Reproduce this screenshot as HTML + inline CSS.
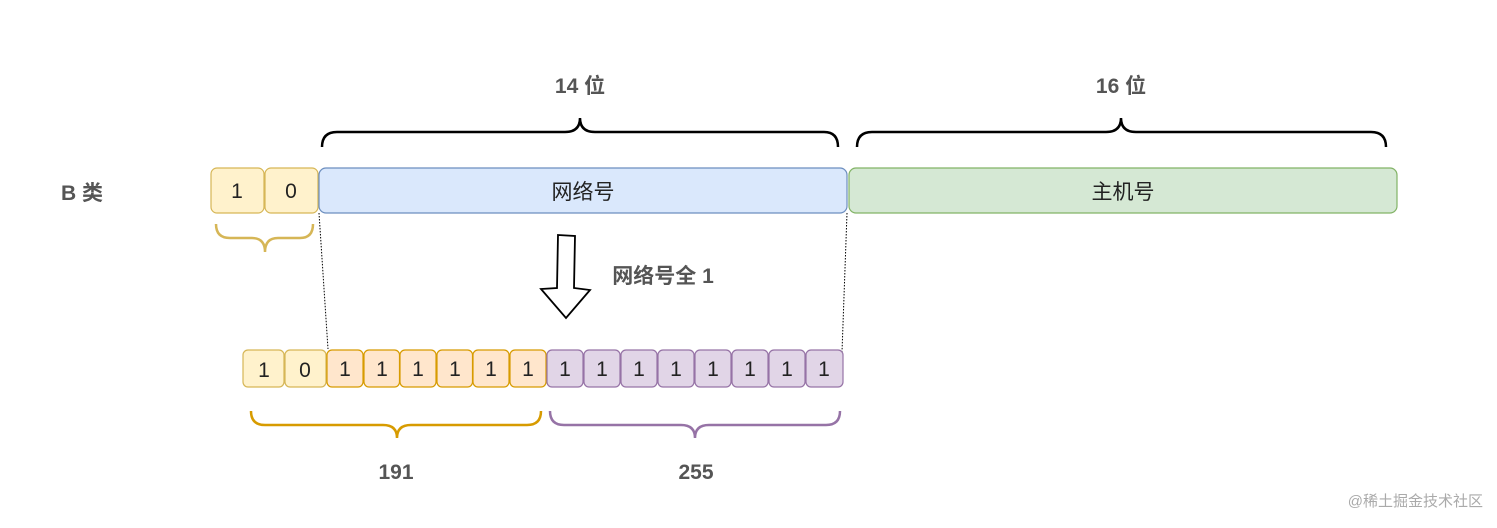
<!DOCTYPE html>
<html><head><meta charset="utf-8"><style>body{margin:0;background:#fff}svg{display:block}text{font-family:"Liberation Sans","Noto Sans CJK SC",sans-serif}</style></head><body>
<svg width="1497" height="528" viewBox="0 0 1497 528" xmlns="http://www.w3.org/2000/svg">
<g font-weight="bold" fill="#555" font-size="21" text-anchor="middle">
<text x="82" y="200">B 类</text>
<text x="580" y="93">14 位</text>
<text x="1121" y="93">16 位</text>
<text x="663" y="283">网络号全 1</text>
<text x="396" y="479">191</text>
<text x="696" y="479">255</text>
</g>
<!-- braces -->
<path d="M322,147 Q322,132 337,132 L565,132 Q580,132 580,118 Q580,132 595,132 L824,132 Q838,132 838,147" fill="none" stroke="#000" stroke-width="2.5"/>
<path d="M857,147 Q857,132 872,132 L1106,132 Q1121,132 1121,118 Q1121,132 1136,132 L1371,132 Q1386,132 1386,147" fill="none" stroke="#000" stroke-width="2.5"/>
<path d="M216,224 Q216,238 230,238 L252,238 Q265,238 265,252 Q265,238 278,238 L300,238 Q313,238 313,224" fill="none" stroke="#d6b656" stroke-width="2.5"/>
<path d="M251,411 Q251,425 265,425 L383,425 Q397,425 397,438 Q397,425 411,425 L527,425 Q541,425 541,411" fill="none" stroke="#d79b00" stroke-width="2.5"/>
<path d="M550,411 Q550,425 564,425 L681,425 Q695,425 695,438 Q695,425 709,425 L826,425 Q840,425 840,411" fill="none" stroke="#9673a6" stroke-width="2.5"/>
<!-- top row -->
<g stroke="#d6b656" fill="#fff2cc" stroke-width="1.2">
<rect x="211" y="168" width="53" height="45" rx="6"/><rect x="265" y="168" width="53" height="45" rx="6"/></g>
<rect x="319" y="168" width="528" height="45" rx="7" fill="#dae8fc" stroke="#6c8ebf" stroke-width="1.2"/>
<rect x="849" y="168" width="548" height="45" rx="7" fill="#d5e8d4" stroke="#82b366" stroke-width="1.2"/>
<g font-size="21" fill="#222" text-anchor="middle">
<text x="237" y="198">1</text><text x="291" y="198">0</text>
<text x="583" y="199">网络号</text><text x="1123" y="199">主机号</text></g>
<!-- dotted -->
<line x1="319" y1="213" x2="328" y2="349" stroke="#000" stroke-dasharray="1.5,1.5"/>
<line x1="847" y1="213" x2="842" y2="352" stroke="#000" stroke-dasharray="1.5,1.5"/>
<!-- arrow -->
<path d="M558,235 L575,236 L574,288 L590,290 L566,318 L541,289 L557,288 Z" fill="#fff" stroke="#000" stroke-width="1.8"/>
<!-- bottom row -->
<g stroke-width="1.2">
<rect x="243" y="350" width="41" height="37" rx="5" fill="#fff2cc" stroke="#d6b656"/>
<rect x="285" y="350" width="41" height="37" rx="5" fill="#fff2cc" stroke="#d6b656"/>
<g fill="#ffe6cc" stroke="#d79b00">
<rect x="327" y="350" width="36" height="37" rx="5"/><rect x="364" y="350" width="35.5" height="37" rx="5"/><rect x="400" y="350" width="36" height="37" rx="5"/><rect x="437" y="350" width="35.5" height="37" rx="5"/><rect x="473" y="350" width="36" height="37" rx="5"/><rect x="510" y="350" width="36" height="37" rx="5"/></g>
<g fill="#e1d5e7" stroke="#9673a6">
<rect x="547" y="350" width="36" height="37" rx="5"/><rect x="584" y="350" width="36" height="37" rx="5"/><rect x="621" y="350" width="36" height="37" rx="5"/><rect x="658" y="350" width="36" height="37" rx="5"/><rect x="695" y="350" width="36" height="37" rx="5"/><rect x="732" y="350" width="36" height="37" rx="5"/><rect x="769" y="350" width="36" height="37" rx="5"/><rect x="806" y="350" width="37" height="37" rx="5"/></g>
</g>
<g font-size="21" fill="#222" text-anchor="middle">
<text x="264" y="377">1</text><text x="305" y="377">0</text>
<text x="345" y="376">1</text><text x="382" y="376">1</text><text x="418" y="376">1</text><text x="455" y="376">1</text><text x="491" y="376">1</text><text x="528" y="376">1</text>
<text x="565" y="376">1</text><text x="602" y="376">1</text><text x="639" y="376">1</text><text x="676" y="376">1</text><text x="713" y="376">1</text><text x="750" y="376">1</text><text x="787" y="376">1</text><text x="824" y="376">1</text>
</g>
<text x="1483" y="506" font-size="15" fill="#aaa" text-anchor="end">@稀土掘金技术社区</text>
</svg>
</body></html>
